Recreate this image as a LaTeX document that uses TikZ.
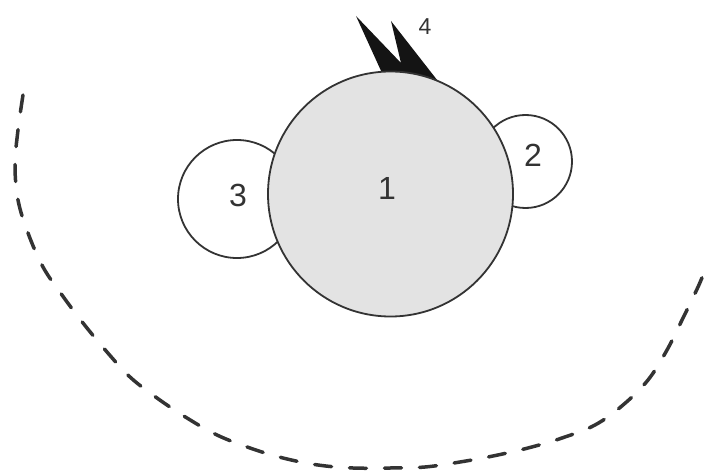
\documentclass[tikz,border=0pt]{standalone}
\usepackage{fontspec}
\setmainfont{Liberation Sans}
\begin{document}
\begin{tikzpicture}[x=1pt,y=-1pt,
  ring/.style={circle,draw=black!80,line width=1.8pt,inner sep=0pt},
  numlabel/.style={text=black!80,font=\fontsize{32}{32}\selectfont,inner sep=0pt},
  smalllabel/.style={text=black!80,font=\fontsize{23}{23}\selectfont,inner sep=0pt},
  boundary/.style={draw=black!80,line width=3.5pt,line cap=round,dash pattern=on 17pt off 18pt}]
\useasboundingbox (0,0) rectangle (706,473);
% small circles behind
\node[ring,fill=white,minimum size=118pt] (c3) at (237,199) {};
\node[ring,fill=white,minimum size=93pt] (c2) at (525.5,161.5) {};
% spikes (base hidden under the big circle)
\fill[black!92] (388,105) -- (382,73) -- (356,16) -- (401,63) -- (391,21) -- (441,85) -- (436,110) -- cycle;
% big circle
\node[ring,fill=black!11,minimum size=245pt] (c1) at (390.5,194) {};
% labels
\node[numlabel] (l1) at (387,188) {1};
\node[numlabel] (l2) at (533,155) {2};
\node[numlabel] (l3) at (238,195) {3};
\node[smalllabel] (l4) at (425,27) {4};
% dashed boundary
\draw[boundary] plot[smooth,tension=0.6] coordinates {(23,95) (18,130) (15,165) (18,200) (28,233) (43,267) (62,295) (83,323) (107,352) (130,377) (157,398) (187,418) (217,435) (250,448) (283,458) (318,465) (353,468) (390,468) (425,467) (460,462) (493,456) (528,448) (562,438) (595,425) (623,405) (648,380) (667,350) (683,318) (698,287) (705,270)};
\end{tikzpicture}
\end{document}
